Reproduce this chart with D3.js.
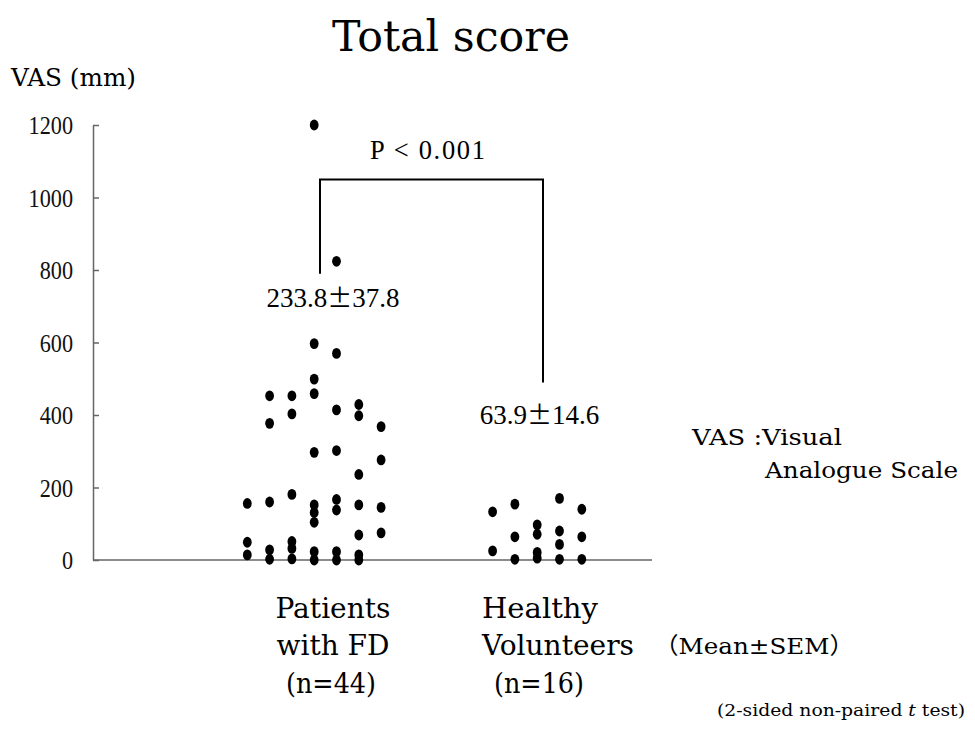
<!DOCTYPE html>
<html>
<head>
<meta charset="utf-8">
<script src="https://cdn.jsdelivr.net/npm/d3@7"></script>
<style>
  html, body { margin: 0; padding: 0; background: #fff; }
  svg { display: block; }
</style>
</head>
<body>
<svg id="chart" width="975" height="731"></svg>
<script>
// ---- data ----
const groups = ["Patients with FD", "Healthy Volunteers"];
const groupCounts = ["(n=44)", "(n=16)"];
// dot values per swarm column
const patientColumns = [
  [156, 49, 14],
  [453, 377, 160, 28, 2],
  [453, 403, 181, 51, 32, 3],
  [1200, 597, 499, 459, 297, 152, 131, 104, 23, 0],
  [824, 570, 414, 302, 167, 138, 23, 0],
  [429, 398, 236, 152, 69, 14, 0],
  [368, 276, 145, 75]
];
const healthyColumns = [
  [133, 25],
  [154, 64, 2],
  [97, 71, 21, 5],
  [170, 80, 43, 2],
  [140, 64, 2]
];
const patientSlots = [0, 1, 2, 3, 4, 5, 6];
const healthySlots = [11, 12, 13, 14, 15];
const yTicks = [0, 200, 400, 600, 800, 1000, 1200];
const means = [["233.8", "37.8"], ["63.9", "14.6"]];
const meanSlots = [3.84, 13.1];
const meanValues = [699, 375];
const bracketSlots = [3.26, 13.26];
const bracketValues = [790, 1050, 490];
const pLabel = "P < 0.001";

// ---- scales ----
const svg = d3.select("#chart");
const y = d3.scaleLinear().domain([0, 1200]).range([560, 125]);
const x = d3.scaleLinear().domain([0, 15]).range([247.3, 581.8]);

const serif = "'DejaVu Serif', serif";
const times = "'Liberation Serif', 'Times New Roman', serif";
const cjk = "'Noto Sans CJK JP', sans-serif";

// ---- axes ----
const yAxis = d3.axisLeft(y).tickValues(yTicks).tickFormat(d3.format("d"))
  .tickSizeInner(-6).tickSizeOuter(0).tickPadding(20);
const gy = svg.append("g").attr("transform", "translate(93,0)").call(yAxis);
gy.select(".domain").attr("stroke", "#666").attr("stroke-width", 1.5);
gy.selectAll(".tick line").attr("stroke", "#666").attr("stroke-width", 1.5);
gy.selectAll(".tick text")
  .attr("font-family", times).attr("font-size", 25).attr("fill", "#111")
  .attr("dy", "0.34em")
  .attr("textLength", d => String(d).length * 11.1)
  .attr("lengthAdjust", "spacingAndGlyphs");

// baseline
svg.append("line")
  .attr("x1", 93).attr("x2", 652)
  .attr("y1", y(0)).attr("y2", y(0))
  .attr("stroke", "#666").attr("stroke-width", 1.5);

// ---- dots ----
const dots = [];
patientColumns.forEach((col, i) => col.forEach(v => dots.push({slot: patientSlots[i], v})));
healthyColumns.forEach((col, i) => col.forEach(v => dots.push({slot: healthySlots[i], v})));
svg.append("g").selectAll("ellipse").data(dots).join("ellipse")
  .attr("cx", d => x(d.slot))
  .attr("cy", d => y(d.v))
  .attr("rx", 4.4).attr("ry", 5.4)
  .attr("fill", "#000");

// ---- bracket ----
const bracket = d3.path();
bracket.moveTo(x(bracketSlots[0]), y(bracketValues[0]));
bracket.lineTo(x(bracketSlots[0]), y(bracketValues[1]));
bracket.lineTo(x(bracketSlots[1]), y(bracketValues[1]));
bracket.lineTo(x(bracketSlots[1]), y(bracketValues[2]));
svg.append("path").attr("d", bracket.toString())
  .attr("fill", "none").attr("stroke", "#000").attr("stroke-width", 2);

svg.append("text")
  .attr("x", 427.5).attr("y", 159)
  .attr("text-anchor", "middle")
  .attr("font-family", times).attr("font-size", 26.5)
  .attr("textLength", 115).attr("lengthAdjust", "spacing")
  .text(pLabel);

// ---- mean labels (full-width ± like the original) ----
const mt = svg.append("g").selectAll("text").data(means).join("text")
  .attr("x", (d, i) => x(meanSlots[i]))
  .attr("y", (d, i) => y(meanValues[i]))
  .attr("text-anchor", "middle")
  .attr("font-family", times).attr("font-size", 27);
mt.append("tspan").text(d => d[0]);
mt.append("tspan").attr("font-family", cjk).attr("font-size", 25).text("\u00B1");
mt.append("tspan").text(d => d[1]);

// ---- title & axis label ----
svg.append("text")
  .attr("x", 451).attr("y", 51)
  .attr("text-anchor", "middle")
  .attr("font-family", serif).attr("font-size", 43)
  .attr("textLength", 238).attr("lengthAdjust", "spacingAndGlyphs")
  .text("Total score");

svg.append("text")
  .attr("x", 11).attr("y", 86)
  .attr("font-family", serif).attr("font-size", 24)
  .attr("textLength", 125).attr("lengthAdjust", "spacingAndGlyphs")
  .text("VAS (mm)");

// ---- category labels ----
function catText(str, xx, yy, anchor, len) {
  return svg.append("text")
    .attr("x", xx).attr("y", yy)
    .attr("text-anchor", anchor)
    .attr("font-family", serif).attr("font-size", 27)
    .attr("textLength", len).attr("lengthAdjust", "spacingAndGlyphs")
    .text(str);
}
const [p1, p2] = groups[0].split(/ (?=with)/);
catText(p1, 333, 618, "middle", 115);
catText(p2, 333, 655, "middle", 113);
catText(groupCounts[0], 331, 693, "middle", 90);
const [h1, h2] = groups[1].split(" ");
catText(h1, 482, 618, "start", 116);
catText(h2, 482, 655, "start", 152);
catText(groupCounts[1], 494, 693, "start", 90);

// ---- notes ----
svg.append("text").attr("x", 654).attr("y", 654)
  .attr("font-family", "'DejaVu Serif', 'Noto Sans CJK JP', serif").attr("font-size", 23)
  .attr("textLength", 200).attr("lengthAdjust", "spacingAndGlyphs")
  .text("\uFF08Mean\u00B1SEM\uFF09");

svg.append("text").attr("x", 692).attr("y", 445)
  .attr("font-family", serif).attr("font-size", 23)
  .attr("textLength", 150).attr("lengthAdjust", "spacingAndGlyphs")
  .text("VAS :Visual");
svg.append("text").attr("x", 765).attr("y", 478)
  .attr("font-family", serif).attr("font-size", 23)
  .attr("textLength", 193).attr("lengthAdjust", "spacingAndGlyphs")
  .text("Analogue Scale");

const foot = svg.append("text").attr("x", 717).attr("y", 716)
  .attr("font-family", serif).attr("font-size", 16)
  .attr("textLength", 248).attr("lengthAdjust", "spacingAndGlyphs");
foot.append("tspan").text("(2-sided non-paired ");
foot.append("tspan").attr("font-style", "italic").text("t");
foot.append("tspan").text(" test)");
</script>
</body>
</html>
